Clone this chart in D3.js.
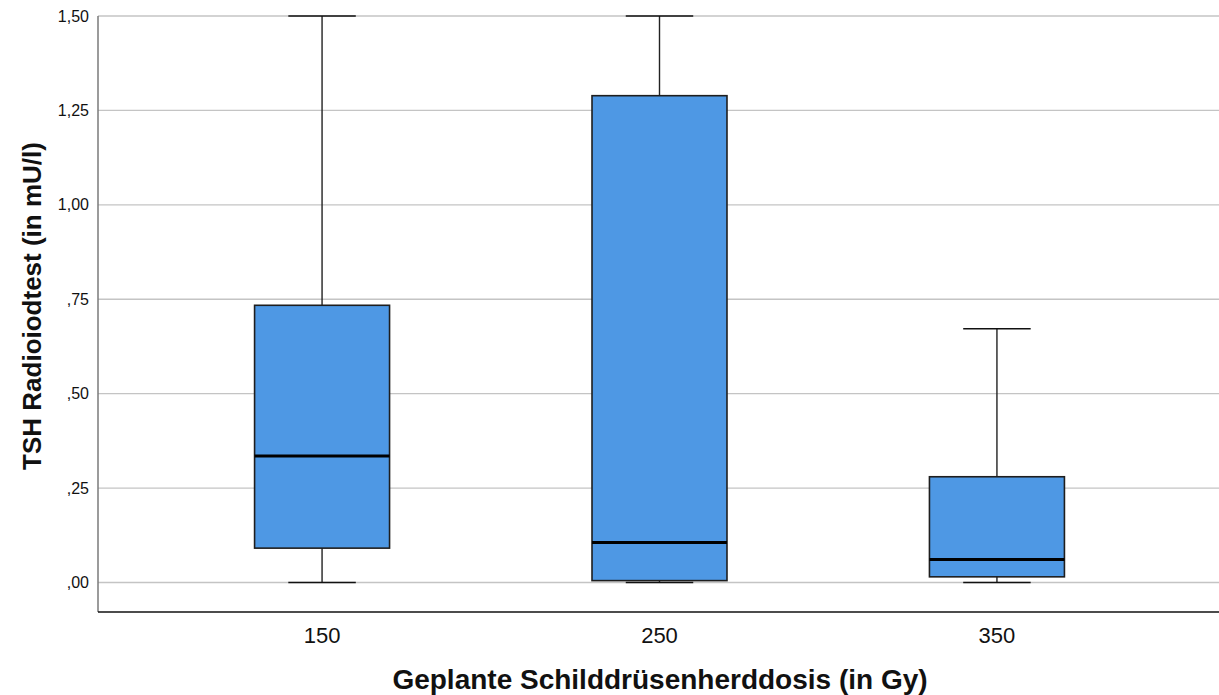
<!DOCTYPE html>
<html>
<head>
<meta charset="utf-8">
<script src="https://cdn.jsdelivr.net/npm/d3@7"></script>
<style>
  body { margin: 0; background: #fff; }
  text { font-family: "Liberation Sans", Arial, sans-serif; }
</style>
</head>
<body>
<div id="chart"></div>
<script>
// groups on the x axis
const groups = ['150', '250', '350'];
// five-number summaries
const whiskerLow = [0.000, 0.000, 0.000];
const q1         = [0.091, 0.005, 0.015];
const median     = [0.335, 0.106, 0.061];
const q3         = [0.734, 1.289, 0.280];
const whiskerHigh = [1.500, 1.500, 0.672];
const yTicks = [0, 0.25, 0.5, 0.75, 1.0, 1.25, 1.5];
const yTickLabels = [',00', ',25', ',50', ',75', '1,00', '1,25', '1,50'];

const width = 1219, height = 695;
const margin = { left: 98, right: 0, top: 0, bottom: 83 };

const svg = d3.select('#chart').append('svg')
  .attr('width', width)
  .attr('height', height);

const x = d3.scaleBand()
  .domain(groups)
  .range([margin.left, 1221])
  .paddingInner(0.6)
  .paddingOuter(0.464);

const y = d3.scaleLinear()
  .domain([0, 1.5])
  .range([582.5, 16]);

// gridlines
svg.append('g')
  .selectAll('line')
  .data(yTicks)
  .enter()
  .append('line')
  .attr('x1', margin.left)
  .attr('x2', width)
  .attr('y1', d => y(d))
  .attr('y2', d => y(d))
  .style('stroke', '#c4c4c4')
  .style('stroke-width', 1.3);

// y axis
const yAxis = d3.axisLeft(y)
  .tickValues(yTicks)
  .tickFormat((d, i) => yTickLabels[i])
  .tickSize(0)
  .tickPadding(9);

const gy = svg.append('g')
  .attr('transform', `translate(${margin.left},0)`)
  .call(yAxis);
gy.select('.domain').remove();
gy.selectAll('text')
  .style('font-size', '16px')
  .style('fill', '#111')
  .style('font-family', '"Liberation Sans", Arial, sans-serif');

svg.append('line')
  .attr('x1', margin.left)
  .attr('x2', margin.left)
  .attr('y1', y(1.5))
  .attr('y2', 612)
  .style('stroke', '#7a7a7a')
  .style('stroke-width', 1.5);

// x axis
svg.append('line')
  .attr('x1', margin.left)
  .attr('x2', width)
  .attr('y1', 612)
  .attr('y2', 612)
  .style('stroke', '#111')
  .style('stroke-width', 1.5);

const xAxis = d3.axisBottom(x).tickSize(0).tickPadding(0);
const gx = svg.append('g')
  .attr('transform', 'translate(0,612)')
  .call(xAxis);
gx.select('.domain').remove();
gx.selectAll('text')
  .attr('y', 31)
  .attr('dy', 0)
  .style('font-size', '22px')
  .style('fill', '#111')
  .style('font-family', '"Liberation Sans", Arial, sans-serif');

// boxes
const idx = d3.range(groups.length);
const bw = x.bandwidth();
const box = svg.append('g')
  .selectAll('.box')
  .data(idx)
  .enter()
  .append('g')
  .classed('box', true);

box.append('line')
  .attr('x1', i => x(groups[i]) + bw / 2)
  .attr('x2', i => x(groups[i]) + bw / 2)
  .attr('y1', i => y(whiskerLow[i]))
  .attr('y2', i => y(whiskerHigh[i]))
  .style('stroke', '#222')
  .style('stroke-width', 1.4);

[whiskerLow, whiskerHigh].forEach(arr => {
  box.append('line')
    .attr('x1', i => x(groups[i]) + bw / 4)
    .attr('x2', i => x(groups[i]) + bw * 3 / 4)
    .attr('y1', i => y(arr[i]))
    .attr('y2', i => y(arr[i]))
    .style('stroke', '#111')
    .style('stroke-width', 1.6);
});

box.append('rect')
  .attr('x', i => x(groups[i]))
  .attr('width', bw)
  .attr('y', i => y(q3[i]))
  .attr('height', i => y(q1[i]) - y(q3[i]))
  .style('fill', '#4e98e4')
  .style('stroke', '#1e1e1e')
  .style('stroke-width', 1.6);

box.append('line')
  .attr('x1', i => x(groups[i]))
  .attr('x2', i => x(groups[i]) + bw)
  .attr('y1', i => y(median[i]))
  .attr('y2', i => y(median[i]))
  .style('stroke', '#000')
  .style('stroke-width', 3);

// axis titles
svg.append('text')
  .attr('transform', 'translate(41,306) rotate(-90)')
  .attr('text-anchor', 'middle')
  .style('font-size', '26px')
  .style('font-weight', 'bold')
  .style('fill', '#111')
  .text('TSH Radioiodtest (in mU/l)');

svg.append('text')
  .attr('x', 660)
  .attr('y', 689)
  .attr('text-anchor', 'middle')
  .style('font-size', '28px')
  .style('font-weight', 'bold')
  .style('fill', '#111')
  .text('Geplante Schilddrüsenherddosis (in Gy)');
</script>
</body>
</html>
